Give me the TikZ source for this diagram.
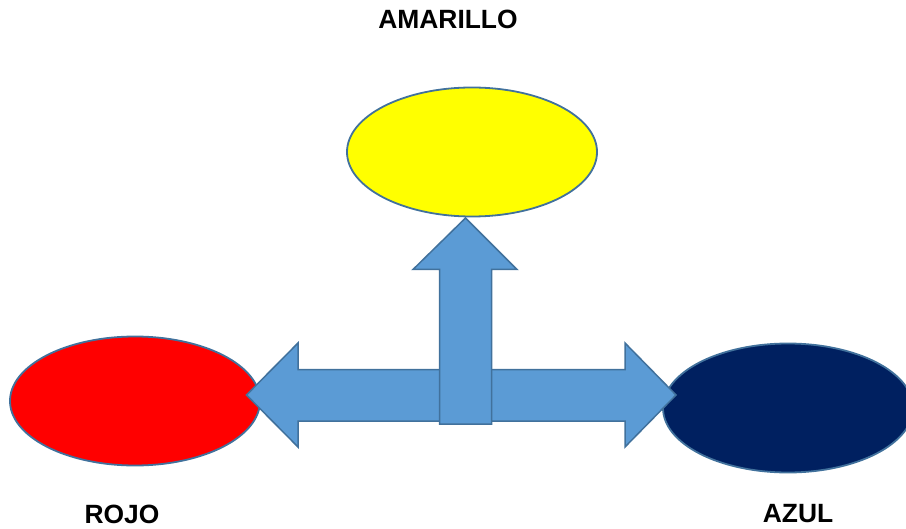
\documentclass[tikz,border=0pt]{standalone}
\usepackage{fontspec}
\setmainfont{Liberation Sans}
\usetikzlibrary{shapes.geometric}

\definecolor{edgeblue}{HTML}{41719C}
\definecolor{arrowblue}{HTML}{5B9BD5}
\definecolor{navy}{HTML}{002060}
\definecolor{pureyellow}{RGB}{255,255,0}
\definecolor{purered}{RGB}{255,0,0}

\tikzset{
  blob/.style={ellipse, draw=edgeblue, line width=1.8bp,
    minimum width=250bp, minimum height=129bp, inner sep=0pt},
  lbl/.style={font=\fontsize{26.5}{30}\selectfont\bfseries, inner sep=0pt},
  block/.style={fill=arrowblue, draw=edgeblue, line width=1.5bp, line join=miter}
}

\begin{document}
\begin{tikzpicture}[x=1bp,y=-1bp]
    \useasboundingbox (0,0) rectangle (906,529);

    \node[blob, fill=pureyellow] (amarillo) at (472,152) {};
    \node[blob, fill=purered]    (rojo)     at (135,401) {};
    \node[blob, fill=navy]       (azul)     at (788,408) {};

    % horizontal double arrow
    \draw[block] (246.5,395) -- (298,343) -- (298,369.5) -- (625,369.5)
        -- (625,343) -- (676,395) -- (625,447) -- (625,421)
        -- (298,421) -- (298,447) -- cycle;
    % upward arrow
    \draw[block] (465.5,218) -- (517,269.5) -- (491.5,269.5) -- (491.5,424)
        -- (439.5,424) -- (439.5,269.5) -- (413,269.5) -- cycle;

    \node[lbl] (tamarillo) at (448,19)  {AMARILLO};
    \node[lbl] (trojo)     at (122,514) {ROJO};
    \node[lbl] (tazul)     at (798,514) {AZUL};
\end{tikzpicture}
\end{document}
